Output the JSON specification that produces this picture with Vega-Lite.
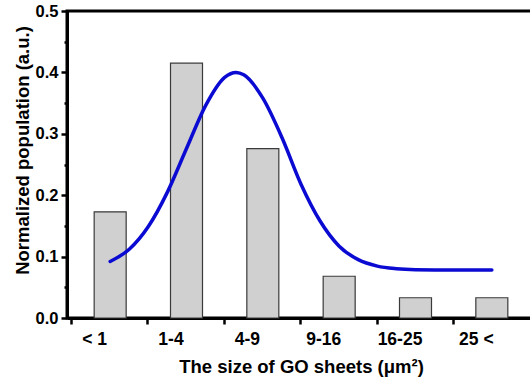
{
  "$schema": "https://vega.github.io/schema/vega-lite/v6.json",
  "width": 468,
  "height": 307,
  "autosize": {"type": "none"},
  "padding": {"left": 67, "top": 11, "right": 0, "bottom": 65},
  "background": "white",
  "config": {
    "view": {"stroke": "black", "strokeWidth": 3},
    "font": "Liberation Sans",
    "axis": {"grid": false, "domainColor": "black", "domainWidth": 3, "tickColor": "black", "tickWidth": 2.5, "labelColor": "black", "titleColor": "black"}
  },
  "datasets": {
    "bars": [
      {"size": "< 1", "idx": 0.5, "population": 0.173},
      {"size": "1-4", "idx": 1.5, "population": 0.415},
      {"size": "4-9", "idx": 2.5, "population": 0.276},
      {"size": "9-16", "idx": 3.5, "population": 0.068},
      {"size": "16-25", "idx": 4.5, "population": 0.033},
      {"size": "25 <", "idx": 5.5, "population": 0.033}
    ],
    "curve": [
      {"u": 0.5, "fit": 0.092},
      {"u": 0.75, "fit": 0.112},
      {"u": 1.0, "fit": 0.149},
      {"u": 1.25, "fit": 0.205},
      {"u": 1.5, "fit": 0.276},
      {"u": 1.75, "fit": 0.346},
      {"u": 2.0, "fit": 0.392},
      {"u": 2.15, "fit": 0.4},
      {"u": 2.25, "fit": 0.396},
      {"u": 2.5, "fit": 0.358},
      {"u": 2.75, "fit": 0.294},
      {"u": 3.0, "fit": 0.218},
      {"u": 3.25, "fit": 0.158},
      {"u": 3.5, "fit": 0.117},
      {"u": 3.75, "fit": 0.095},
      {"u": 4.0, "fit": 0.0845},
      {"u": 4.25, "fit": 0.0803},
      {"u": 4.5, "fit": 0.0787},
      {"u": 5.0, "fit": 0.078},
      {"u": 5.5, "fit": 0.078}
    ]
  },
  "layer": [
    {
      "data": {"name": "bars"},
      "mark": {"type": "bar", "size": 32, "fill": "#d0d0d0", "stroke": "#3a3a3a", "strokeWidth": 1.2},
      "encoding": {
        "x": {
          "field": "idx", "type": "quantitative",
          "scale": {"domain": [0, 6], "nice": false, "zero": false},
          "axis": {
            "values": [0.5, 1.5, 2.5, 3.5, 4.5, 5.5],
            "labelExpr": "['< 1','1-4','4-9','9-16','16-25','25 <'][floor(datum.value)]",
            "tickOffset": -39, "labelOffset": 23,
            "tickSize": 6, "labelPadding": 6,
            "labelFontSize": 17.5, "labelFontWeight": "bold",
            "title": "The size of GO sheets (μm²)",
            "titleFontSize": 18.5, "titleFontWeight": "bold", "titlePadding": 10
          }
        },
        "y": {
          "field": "population", "type": "quantitative",
          "scale": {"domain": [0, 0.5], "nice": false},
          "axis": {
            "values": [0, 0.1, 0.2, 0.3, 0.4, 0.5],
            "format": ".1f",
            "tickSize": 6, "labelPadding": 3,
            "labelFontSize": 16.5, "labelFontWeight": "bold",
            "title": "Normalized population (a.u.)",
            "titleFontSize": 18.5, "titleFontWeight": "bold", "titlePadding": 3,
            "titleY": 139
          }
        }
      }
    },
    {
      "data": {"name": "curve"},
      "mark": {"type": "line", "color": "#0a0ad2", "strokeWidth": 3.5, "interpolate": "monotone", "strokeCap": "round"},
      "encoding": {
        "x": {"field": "u", "type": "quantitative", "axis": null},
        "y": {
          "field": "fit", "type": "quantitative",
          "axis": {"orient": "left", "values": [0.05, 0.15, 0.25, 0.35, 0.45], "tickSize": 3, "labels": false, "domain": false, "title": null}
        }
      }
    }
  ],
  "resolve": {"axis": {"x": "independent", "y": "independent"}}
}
